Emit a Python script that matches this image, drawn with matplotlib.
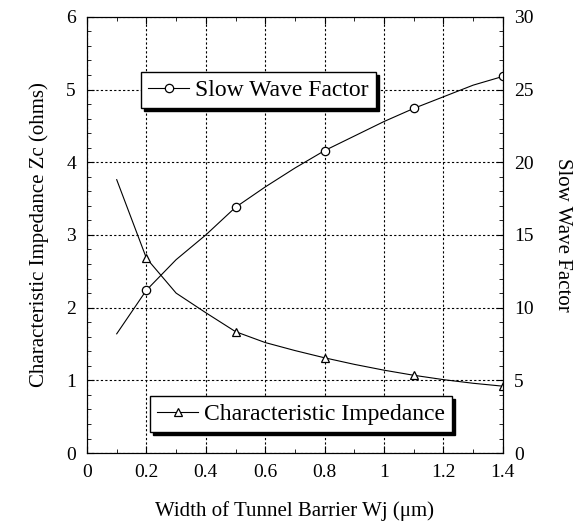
"""Characteristic impedance and slow wave factor vs tunnel barrier width"""

import matplotlib
matplotlib.use("Agg")
import matplotlib.pyplot as plt
from matplotlib.ticker import MultipleLocator, FuncFormatter

plt.rcParams["font.family"] = ["Liberation Serif", "DejaVu Serif"]

# curve samples
width_um = [0.1, 0.2, 0.3, 0.4, 0.5, 0.6, 0.7, 0.8, 0.9, 1.0, 1.1, 1.2, 1.3, 1.4]
impedance = [3.76, 2.68, 2.20, 1.93, 1.67, 1.52, 1.41, 1.31, 1.22, 1.14, 1.07, 1.01, 0.96, 0.92]
slow_wave = [8.2, 11.2, 13.3, 15.0, 16.9, 18.3, 19.6, 20.8, 21.8, 22.8, 23.7, 24.5, 25.3, 25.9]
# markers only at the measured widths 0.2, 0.5, 0.8, 1.1, 1.4
marker_idx = [1, 4, 7, 10, 13]

fig = plt.figure(figsize=(5.8, 5.25), dpi=100)
ax = fig.add_axes([0.15, 0.137, 0.717, 0.831])
ax2 = ax.twinx()

shadow = {"facecolor": "black", "edgecolor": "black", "alpha": 1}

l1, = ax.plot(width_um, impedance, color="black", lw=0.8, marker="^", ms=6,
              mfc="white", mec="black", mew=0.9, markevery=marker_idx,
              label="Characteristic Impedance")
l2, = ax2.plot(width_um, slow_wave, color="black", lw=0.8, marker="o", ms=6,
               mfc="white", mec="black", mew=0.9, markevery=marker_idx,
               label="Slow Wave Factor")

ax.set_xlim(0, 1.4)
ax.set_ylim(0, 6)
ax2.set_ylim(0, 30)

ax.xaxis.set_major_locator(MultipleLocator(0.2))
ax.xaxis.set_minor_locator(MultipleLocator(0.1))
ax.xaxis.set_major_formatter(FuncFormatter(lambda v, p: f"{v:g}"))
ax.yaxis.set_major_locator(MultipleLocator(1))
ax.yaxis.set_minor_locator(MultipleLocator(0.2))
ax2.yaxis.set_major_locator(MultipleLocator(5))
ax2.yaxis.set_minor_locator(MultipleLocator(1))

for a in (ax, ax2):
    a.tick_params(which="both", direction="in", labelsize=14, pad=8)
    a.tick_params(which="major", length=5)
    a.tick_params(which="minor", length=3)
ax.tick_params(which="both", top=True, right=False)

ax.grid(which="major", color="black", linestyle=(0, (2, 2)), lw=0.8)

ax.set_xlabel("Width of Tunnel Barrier Wj (\u03bcm)", fontsize=15, labelpad=14)
ax.set_ylabel("Characteristic Impedance Zc (ohms)", fontsize=15, labelpad=12)
ax2.set_ylabel("Slow Wave Factor", fontsize=15, rotation=270, labelpad=28)

leg2 = ax2.legend(handles=[l2], loc="upper left", bbox_to_anchor=(0.13, 0.873),
                  borderaxespad=0, fontsize=17, fancybox=False, framealpha=1,
                  edgecolor="black", shadow=shadow, handlelength=1.75,
                  borderpad=0.3, handletextpad=0.25)
leg2.get_frame().set_linewidth(1.0)

leg1 = ax2.legend(handles=[l1], loc="lower left", bbox_to_anchor=(0.151, 0.048),
                  borderaxespad=0, fontsize=17, fancybox=False, framealpha=1,
                  edgecolor="black", shadow=shadow, handlelength=1.75,
                  borderpad=0.3, handletextpad=0.25)
leg1.get_frame().set_linewidth(1.0)
ax2.add_artist(leg2)

fig.savefig("out.png", dpi=100)
